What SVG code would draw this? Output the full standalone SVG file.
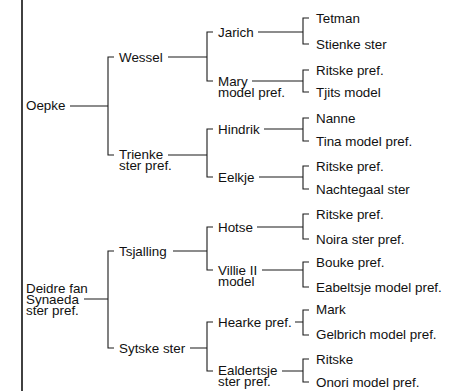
<svg xmlns="http://www.w3.org/2000/svg" width="451" height="391" viewBox="0 0 451 391">
<style>
text{font-family:"Liberation Sans",Arial,sans-serif;font-size:13.4px;fill:#111}
.c path{fill:none;stroke:#1a1a1a;stroke-width:1.1}
.frame{stroke:#111;stroke-width:1.6}
</style>
<rect width="451" height="391" fill="#fff"/>
<line class="frame" x1="22" y1="0" x2="22" y2="391"/>
<g class="c" id="connectors">
<path d="M70,106H108M114,57H108V155H114"/>
<path d="M168,57H207M213,32H207V81H213"/>
<path d="M168,155H207M213,129H207V177H213"/>
<path d="M258,32H303M309,18H303V44H309"/>
<path d="M252,81H303M309,70H303V92H309"/>
<path d="M264,129H303M309,118H303V141H309"/>
<path d="M259,177H303M309,166H303V189H309"/>
<path d="M84,299H108M114,251H108V348H114"/>
<path d="M173,251H207M213,227H207V270H213"/>
<path d="M190,348H207M213,322H207V371H213"/>
<path d="M257,227H303M309,214H303V239H309"/>
<path d="M262,270H303M309,262H303V287H309"/>
<path d="M295,322H303M309,310H303V335H309"/>
<path d="M282,371H303M309,359H303V382H309"/>
</g>
<g id="oepke"><text x="26" y="110">Oepke</text></g>
<g id="wessel"><text x="119" y="61.5">Wessel</text></g>
<g id="trienke"><text x="119" y="159">Trienke</text><text x="119" y="170">ster pref.</text></g>
<g id="jarich"><text x="218" y="37">Jarich</text></g>
<g id="mary"><text x="218" y="86">Mary</text><text x="218" y="97">model pref.</text></g>
<g id="hindrik"><text x="218" y="134">Hindrik</text></g>
<g id="eelkje"><text x="218" y="182">Eelkje</text></g>
<g id="tetman"><text x="316" y="23">Tetman</text></g>
<g id="stienke"><text x="316" y="49">Stienke ster</text></g>
<g id="ritske1"><text x="316" y="75">Ritske pref.</text></g>
<g id="tjits"><text x="316" y="97">Tjits model</text></g>
<g id="nanne"><text x="316" y="123">Nanne</text></g>
<g id="tina"><text x="316" y="146">Tina model pref.</text></g>
<g id="ritske2"><text x="316" y="171">Ritske pref.</text></g>
<g id="nachtegaal"><text x="316" y="194">Nachtegaal ster</text></g>
<g id="deidre"><text x="26" y="292.5">Deidre fan</text><text x="26" y="303.5">Synaeda</text><text x="26" y="314.5">ster pref.</text></g>
<g id="tsjalling"><text x="119" y="256">Tsjalling</text></g>
<g id="sytske"><text x="119" y="353">Sytske ster</text></g>
<g id="hotse"><text x="218" y="232">Hotse</text></g>
<g id="villie"><text x="218" y="275">Villie II</text><text x="218" y="286">model</text></g>
<g id="hearke"><text x="218" y="327">Hearke pref.</text></g>
<g id="ealdertsje"><text x="218" y="375">Ealdertsje</text><text x="218" y="386">ster pref.</text></g>
<g id="ritske3"><text x="316" y="219">Ritske pref.</text></g>
<g id="noira"><text x="316" y="244">Noira ster pref.</text></g>
<g id="bouke"><text x="316" y="267">Bouke pref.</text></g>
<g id="eabeltsje"><text x="316" y="292">Eabeltsje model pref.</text></g>
<g id="mark"><text x="316" y="314">Mark</text></g>
<g id="gelbrich"><text x="316" y="339">Gelbrich model pref.</text></g>
<g id="ritske4"><text x="316" y="364">Ritske</text></g>
<g id="onori"><text x="316" y="387">Onori model pref.</text></g>
</svg>
